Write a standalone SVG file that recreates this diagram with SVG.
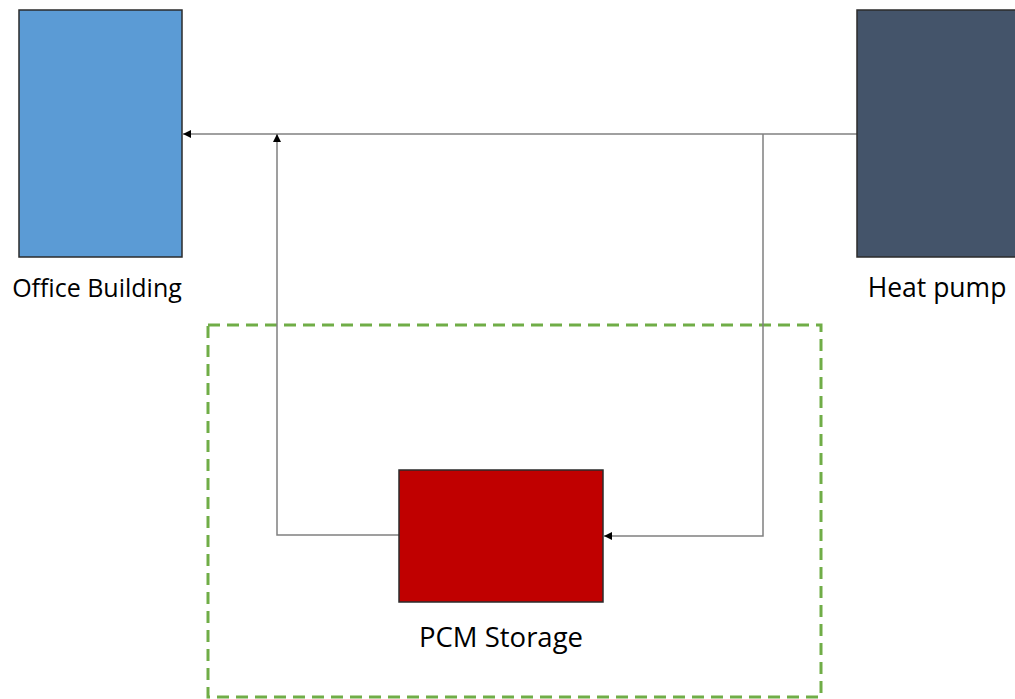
<svg xmlns="http://www.w3.org/2000/svg" width="1015" height="699" viewBox="0 0 1015 699">
<defs>
<style>
.lbl{font-family:"Open Sans","Liberation Sans",sans-serif;font-size:25px;fill:#000;text-anchor:middle}
.box{stroke:#2b2b2b;stroke-width:1.5}
.con{fill:none;stroke:#808080;stroke-width:1.5}
</style>
<marker id="ah" viewBox="0 0 10 10" refX="10" refY="5" markerWidth="9" markerHeight="8" markerUnits="userSpaceOnUse" orient="auto">
<path d="M0,0 L10,5 L0,10 z" fill="#000"/>
</marker>
</defs>
<rect width="1015" height="699" fill="#fff"/>
<g id="boundary">
<rect x="208" y="325" width="613" height="372" fill="none" stroke="#70AD47" stroke-width="3" stroke-dasharray="12 7"/>
</g>
<g id="connectors">
<path class="con" d="M857,134 L183,134" marker-end="url(#ah)"/>
<path class="con" d="M399,535 L277,535 L277,134" marker-end="url(#ah)"/>
<path class="con" d="M763,134 L763,536 L604,536" marker-end="url(#ah)"/>
</g>
<g id="office">
<rect class="box" x="19" y="10" width="163" height="247" fill="#5B9BD5"/>
<text class="lbl" x="97" y="297">Office Building</text>
</g>
<g id="heatpump">
<rect class="box" x="857" y="10" width="170" height="247" fill="#44546A"/>
<text class="lbl" x="937" y="297" style="font-size:26.5px">Heat pump</text>
</g>
<g id="pcm">
<rect class="box" x="399" y="470" width="204" height="132" fill="#C00000"/>
<text class="lbl" x="501" y="647" style="font-size:27.5px">PCM Storage</text>
</g>
</svg>
